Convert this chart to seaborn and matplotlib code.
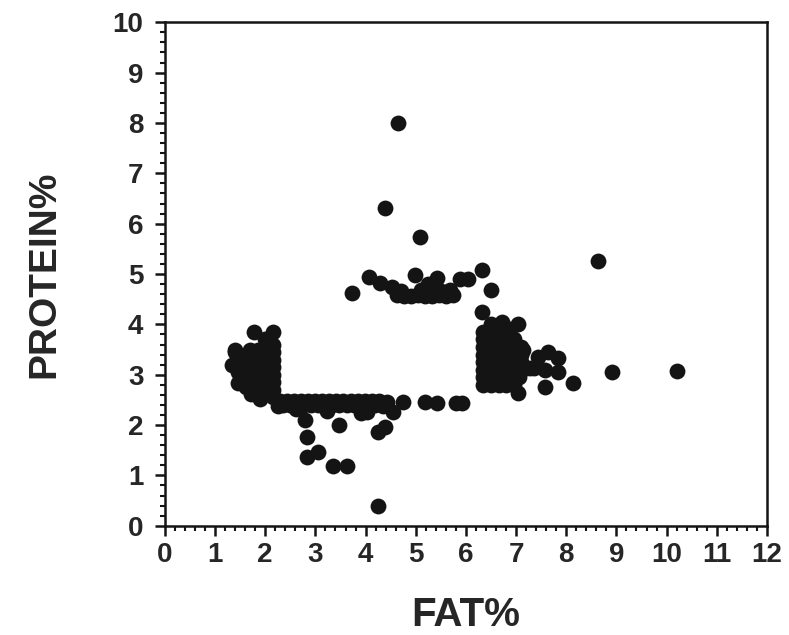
import pandas as pd
import matplotlib
matplotlib.use("Agg")
import matplotlib.pyplot as plt
import seaborn as sns
from matplotlib.ticker import MultipleLocator

# ---------------------------------
# Data (FAT%, PROTEIN%)
# ---------------------------------

fat_left = [1.77, 2.15, 1.33, 1.39, 1.45, 1.40, 1.50, 1.55, 1.79, 1.89,
            1.99, 2.10, 1.70, 1.85, 2.00, 1.50, 1.62, 1.78, 1.92, 2.05,
            1.48, 1.60, 1.75, 1.90, 2.02, 1.45, 1.58, 1.72, 1.88, 2.00,
            1.52, 1.68, 1.82, 1.97, 1.62, 1.76, 1.90, 2.05, 1.72, 1.85,
            2.00, 2.15, 2.15, 2.15, 2.15, 2.15, 2.15, 2.15, 2.15]
protein_left = [3.84, 3.84, 3.20, 3.50, 2.84, 3.45, 3.30, 3.05, 2.70, 2.52,
                3.70, 3.65, 3.50, 3.50, 3.50, 3.35, 3.35, 3.35, 3.35, 3.35,
                3.20, 3.20, 3.20, 3.20, 3.20, 3.05, 3.05, 3.05, 3.05, 3.05,
                2.90, 2.90, 2.90, 2.90, 2.75, 2.75, 2.75, 2.75, 2.62, 2.62,
                2.62, 2.55, 2.70, 2.85, 3.00, 3.15, 3.30, 3.45, 3.60]

fat_band = [2.30, 2.44, 2.58, 2.72, 2.86, 3.00, 3.14, 3.28, 3.42, 3.56,
            3.70, 3.84, 3.98, 4.12, 4.26, 4.42,
            2.36, 2.50, 2.64, 2.78, 2.92, 3.06, 3.20, 3.34, 3.48, 3.62,
            3.76, 3.90, 4.04, 4.18, 4.34,
            2.25, 2.62, 3.23, 3.90, 4.02, 4.54,
            4.74, 5.18, 5.42, 5.80, 5.92]
protein_band = [2.47, 2.47, 2.47, 2.47, 2.47, 2.47, 2.47, 2.47, 2.47, 2.47,
                2.47, 2.47, 2.47, 2.47, 2.47, 2.46,
                2.40, 2.40, 2.40, 2.40, 2.40, 2.40, 2.40, 2.40, 2.40, 2.40,
                2.40, 2.40, 2.40, 2.40, 2.38,
                2.37, 2.32, 2.27, 2.24, 2.25, 2.25,
                2.45, 2.45, 2.43, 2.43, 2.43]

fat_low = [2.79, 2.83, 2.83, 3.05, 3.35, 3.63, 3.47, 4.24, 4.38, 4.24]
protein_low = [2.10, 1.77, 1.37, 1.47, 1.19, 1.19, 2.00, 1.87, 1.97, 0.40]

fat_upper = [3.72, 4.06, 4.28, 4.52, 4.98, 5.25, 5.42, 5.88, 6.04, 6.33,
             6.51, 5.68, 4.62, 4.76, 4.90, 5.04, 5.18, 5.32, 5.46, 5.60,
             5.74, 4.70, 5.10, 5.50]
protein_upper = [4.63, 4.95, 4.83, 4.75, 4.99, 4.80, 4.93, 4.91, 4.91, 5.07,
                 4.69, 4.69, 4.58, 4.56, 4.56, 4.58, 4.56, 4.56, 4.58, 4.56,
                 4.58, 4.66, 4.68, 4.66]

fat_right = [6.33, 6.50, 6.71, 6.87, 7.03,
             6.35, 6.50, 6.65, 6.80,
             6.35, 6.50, 6.65, 6.80, 6.95,
             6.35, 6.50, 6.65, 6.80, 6.95, 7.10,
             6.35, 6.50, 6.65, 6.80, 6.95, 7.10,
             6.35, 6.50, 6.65, 6.80, 6.95, 7.10,
             6.35, 6.50, 6.65, 6.80, 6.95, 7.10,
             6.35, 6.50, 6.65, 6.80, 6.95, 7.05,
             6.35, 6.50, 6.65, 6.80, 6.95,
             7.03, 7.13, 7.20, 7.35, 7.27, 7.43, 7.63, 7.83, 7.57, 7.83,
             7.57, 8.13]
protein_right = [4.25, 4.00, 4.04, 3.90, 4.00,
                 3.85, 3.85, 3.85, 3.85,
                 3.70, 3.70, 3.70, 3.70, 3.70,
                 3.55, 3.55, 3.55, 3.55, 3.55, 3.55,
                 3.40, 3.40, 3.40, 3.40, 3.40, 3.40,
                 3.25, 3.25, 3.25, 3.25, 3.25, 3.25,
                 3.10, 3.10, 3.10, 3.10, 3.10, 3.10,
                 2.95, 2.95, 2.95, 2.95, 2.95, 2.95,
                 2.80, 2.80, 2.80, 2.80, 2.80,
                 2.64, 3.50, 3.14, 3.14, 3.14, 3.36, 3.46, 3.34, 3.10, 3.06,
                 2.76, 2.84]

fat_outliers = [4.64, 4.38, 5.08, 8.63, 8.92, 10.20]
protein_outliers = [8.00, 6.32, 5.73, 5.25, 3.05, 3.07]

# ---------------------------------
# Build DataFrame
# ---------------------------------

df = pd.DataFrame({
    "fat": fat_left + fat_band + fat_low + fat_upper + fat_right + fat_outliers,
    "protein": protein_left + protein_band + protein_low + protein_upper
               + protein_right + protein_outliers,
})

# ---------------------------------
# Plot
# ---------------------------------

sns.set_style("ticks")
plt.rcParams["font.family"] = ["Liberation Sans", "DejaVu Sans"]

fig = plt.figure(figsize=(7.89, 6.35), dpi=100)
ax = fig.add_axes([0.209, 0.172, 0.763, 0.793])

sns.scatterplot(
    data=df, x="fat", y="protein", ax=ax,
    color="#141414", s=130, linewidth=0, alpha=1
)

ax.set_xlim(0, 12)
ax.set_ylim(0, 10)
ax.xaxis.set_major_locator(MultipleLocator(1))
ax.yaxis.set_major_locator(MultipleLocator(1))
ax.xaxis.set_minor_locator(MultipleLocator(0.2))
ax.yaxis.set_minor_locator(MultipleLocator(0.2))

for side in ["left", "bottom", "top", "right"]:
    ax.spines[side].set_linewidth(1.8)
    ax.spines[side].set_color("#141414")

ax.tick_params(which="major", direction="out", length=7.5, width=1.8,
               color="#141414", labelsize=20, pad=4)
ax.tick_params(which="minor", direction="out", length=3.5, width=1.5,
               color="#141414")
ax.tick_params(axis="y", which="major", pad=8)
for lab in ax.get_xticklabels() + ax.get_yticklabels():
    lab.set_fontweight("bold")

ax.set_xlabel("FAT%", fontsize=29, fontweight="bold", labelpad=20)
ax.set_ylabel("PROTEIN%", fontsize=28, fontweight="bold", labelpad=36)

plt.savefig("out.png", dpi=100)
